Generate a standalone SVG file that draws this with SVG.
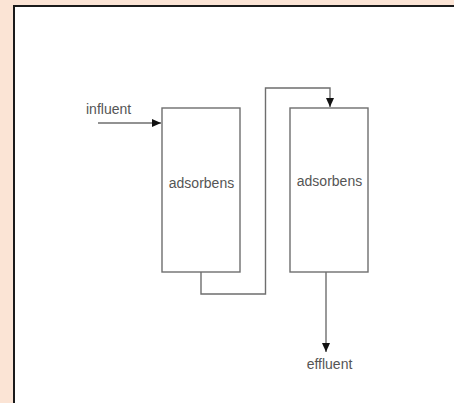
<svg xmlns="http://www.w3.org/2000/svg" width="454" height="403" viewBox="0 0 454 403">
<style>
.box{fill:#fff;stroke:#6e6e6e;stroke-width:1.4}
.ln{fill:none;stroke:#6e6e6e;stroke-width:1.4}
.lbl{font-family:"Liberation Sans",Arial,sans-serif;font-size:14px;fill:#555}
</style>
<defs>
<marker id="ah" markerWidth="10" markerHeight="10" refX="9" refY="5" orient="auto" markerUnits="userSpaceOnUse">
<path d="M0,1 L9,5 L0,9 Z" fill="#111"/>
</marker>
</defs>
<rect x="0" y="0" width="454" height="403" fill="#fbe4d5"/>
<rect x="14" y="6" width="445" height="402" fill="#fff" stroke="#1a1a1a" stroke-width="2"/>
<g id="connectors">
<line class="ln" x1="98" y1="123" x2="161" y2="123" marker-end="url(#ah)"/>
<polyline class="ln" points="201,272 201,294 265.5,294 265.5,88 330,88 330,107" marker-end="url(#ah)"/>
<line class="ln" x1="326" y1="272" x2="326" y2="352" marker-end="url(#ah)"/>
</g>
<g id="influent"><text class="lbl" x="86" y="114">influent</text></g>
<g id="adsorber1">
<rect class="box" x="162" y="108" width="78" height="164"/>
<text class="lbl" x="201.5" y="188" text-anchor="middle">adsorbens</text>
</g>
<g id="adsorber2">
<rect class="box" x="290" y="108" width="78" height="164"/>
<text class="lbl" x="329.5" y="186" text-anchor="middle">adsorbens</text>
</g>
<g id="effluent"><text class="lbl" x="329.5" y="369" text-anchor="middle">effluent</text></g>
</svg>
